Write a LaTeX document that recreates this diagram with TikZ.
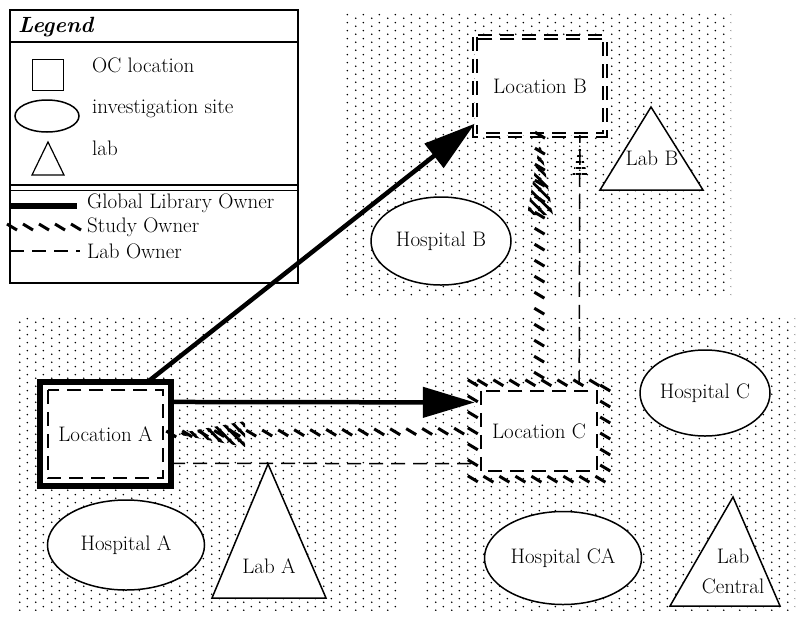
\documentclass[tikz,border=0pt]{standalone}
\usetikzlibrary{shapes.geometric,arrows.meta,decorations.markings,patterns}

\pgfdeclarepatternformonly{ocdots}{\pgfqpoint{0pt}{0pt}}{\pgfqpoint{16pt}{8pt}}{\pgfqpoint{16pt}{8pt}}{%
  \pgfpathcircle{\pgfqpoint{4pt}{2pt}}{0.95pt}%
  \pgfpathcircle{\pgfqpoint{12pt}{6pt}}{0.95pt}%
  \pgfusepath{fill}}
\pgfdeclarepatternformonly{studyhatch}{\pgfqpoint{0pt}{0pt}}{\pgfqpoint{10pt}{10pt}}{\pgfqpoint{10pt}{10pt}}{%
  \pgfsetlinewidth{3pt}%
  \pgfpathmoveto{\pgfqpoint{-1pt}{11pt}}\pgfpathlineto{\pgfqpoint{11pt}{-1pt}}%
  \pgfpathmoveto{\pgfqpoint{-1pt}{1pt}}\pgfpathlineto{\pgfqpoint{1pt}{-1pt}}%
  \pgfpathmoveto{\pgfqpoint{9pt}{11pt}}\pgfpathlineto{\pgfqpoint{11pt}{9pt}}%
  \pgfusepath{stroke}}
\pgfdeclarepatternformonly{labhatch}{\pgfqpoint{0pt}{0pt}}{\pgfqpoint{6pt}{6pt}}{\pgfqpoint{6pt}{6pt}}{%
  \pgfpathrectangle{\pgfqpoint{0pt}{0pt}}{\pgfqpoint{6pt}{2pt}}\pgfusepath{fill}}

\tikzstyle{region} = [pattern=ocdots, draw=none]
\tikzstyle{lbl} = [font=\fontsize{21}{25}\selectfont, inner sep=0pt]
\tikzstyle{oc} = [rectangle, fill=white, lbl]
\tikzstyle{site} = [ellipse, draw, fill=white, line width=1.5pt, lbl]
\tikzstyle{labtri} = [draw, fill=white, line width=1.5pt]
\tikzstyle{globline} = [line width=4.5pt, -{Triangle[length=52pt,width=30pt]}]
\tikzstyle{labline} = [line width=1.5pt, dash pattern=on 14pt off 8pt]
\tikzstyle{studyline} = [postaction={decorate}, decoration={markings, mark=between positions 0 and 1 step 16pt with {\pgftransformresetnontranslations \draw[line width=3pt] (-5pt,3pt) -- (5pt,-3pt);}}]

\begin{document}
\begin{tikzpicture}[x=1pt,y=-1pt]
\useasboundingbox (0,0) rectangle (799,619);
\fill[white] (0,0) rectangle (799,619);

\path[region] (343,12) rectangle (731,296);
\path[region] (14,316) rectangle (401,610);
\path[region] (423,316) rectangle (795,610);

% legend
\draw[line width=2pt, fill=white] (10,10) rectangle (298,283);
\node[font=\fontsize{22}{26}\selectfont\bfseries\itshape, anchor=base west, inner sep=0pt] (legtitle) at (18,32) {Legend};
\draw[line width=1.5pt] (10,42) -- (298,42);
\draw[line width=2pt] (10,185) -- (298,185);
\draw[line width=1pt] (10,190) -- (298,190);
\node[draw, line width=1.5pt, minimum size=31pt, inner sep=0pt] (legoc) at (48,75) {};
\node[ellipse, draw, line width=1.5pt, minimum width=64pt, minimum height=32pt] (legsite) at (47,116) {};
\draw[line width=1.2pt] (48,142) -- (64,175) -- (32,175) -- cycle;
\node[lbl, anchor=base west] (legoctext) at (92,72) {OC location};
\node[lbl, anchor=base west] (legsitetext) at (92,113) {investigation site};
\node[lbl, anchor=base west] (legtritext) at (92,155) {lab};
\coordinate (glob1) at (10,206);
\coordinate (glob2) at (77,206);
\draw[line width=6pt] (glob1) -- (glob2);
\node[lbl, anchor=base west] (legglob) at (87,208) {Global Library Owner};
\coordinate (study1) at (12,227);
\coordinate (study2) at (76,227);
\path[studyline] (study1) -- (study2);
\node[lbl, anchor=base west] (legstudy) at (87,232) {Study Owner};
\coordinate (lab1) at (10,251);
\coordinate (lab2) at (80,251);
\draw[labline] (lab1) -- (lab2);
\node[lbl, anchor=base west] (leglab) at (87,258) {Lab Owner};

% locations
\node[oc, minimum width=130pt, minimum height=98pt] (locB) at (540,86) {Location B};
\draw[labline, double, double distance=2.5pt] (locB.north west) rectangle (locB.south east);

\node[oc, minimum width=131pt, minimum height=104pt] (locA) at (105.5,434) {Location A};
\draw[line width=6pt] (locA.north west) rectangle (locA.south east);
\draw[labline] ([shift={(8,8)}]locA.north west) rectangle ([shift={(-8,-8)}]locA.south east);

\node[oc, minimum width=128pt, minimum height=92pt] (locC) at (539,431) {Location C};
\path[studyline] ([shift={(-2,-2)}]locC.north west) rectangle ([shift={(2,2)}]locC.south east);
\draw[labline] ([shift={(6,6)}]locC.north west) rectangle ([shift={(-6,-6)}]locC.south east);

% sites and labs
\node[site, minimum width=140pt, minimum height=88pt] (hospB) at (441,241) {Hospital B};
\node[site, minimum width=157pt, minimum height=90pt] (hospA) at (126,545) {Hospital A};
\node[site, minimum width=130pt, minimum height=86pt] (hospC) at (705,393) {Hospital C};
\node[site, minimum width=157pt, minimum height=93pt] (hospCA) at (563,558) {Hospital CA};

\draw[labtri] (651,107) -- (703,190) -- (600,190) -- cycle;
\node[lbl] (labB) at (652,158) {Lab B};
\draw[labtri] (268,464) -- (326,598) -- (212,598) -- cycle;
\node[lbl] (labA) at (269,566) {Lab A};
\draw[labtri] (733,497) -- (780,606) -- (670,606) -- cycle;
\node[lbl, align=center, font=\fontsize{21}{30}\selectfont] (labC) at (733,571) {Lab\\Central};

% owners
\draw[globline] (locA.51) -- (locB.210);
\draw[globline] (locA.26) -- (locC.156);
\path[studyline] (locA.east) -- (locC.west);
\path[pattern=studyhatch] (locA.east) ++(4,0) -- ++(70,-13) -- ++(0,26) -- cycle;
\draw[labline] (locA.-24) -- (locC.207);
\path[studyline] (locB.south) -- (locC.north);
\path[pattern=studyhatch] (locB.south) ++(0,6) -- ++(13,74) -- ++(-26,0) -- cycle;
\draw[labline] (locC.49) -- (locB.-51);
\path[pattern=labhatch] (locB.-51) ++(0,10) -- ++(8,32) -- ++(-16,0) -- cycle;
\end{tikzpicture}
\end{document}
